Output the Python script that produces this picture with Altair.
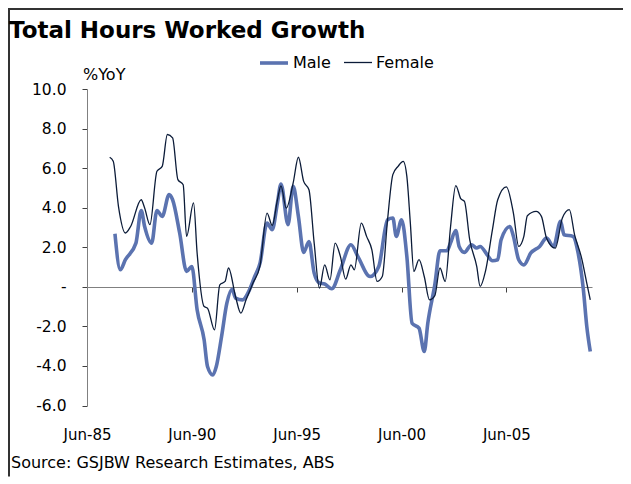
import altair as alt
import pandas as pd

# ---- data ----
female_dates = [
    "1986-07", "1986-09", "1986-12",
    "1987-04", "1987-07",
    "1988-01", "1988-03", "1988-06", "1988-10",
    "1989-01", "1989-04", "1989-07", "1989-10",
    "1990-01", "1990-03", "1990-07", "1990-09",
    "1991-01", "1991-03", "1991-07", "1991-10",
    "1992-01", "1992-03", "1992-07", "1992-10",
    "1993-01", "1993-05", "1993-09",
    "1994-01", "1994-04", "1994-07", "1994-09", "1994-12",
    "1995-04", "1995-07", "1995-10",
    "1996-01", "1996-04", "1996-07", "1996-10",
    "1997-01", "1997-04", "1997-07", "1997-10",
    "1998-01", "1998-03", "1998-07", "1998-10",
    "1999-01", "1999-04", "1999-07", "1999-10",
    "2000-01", "2000-04", "2000-07", "2000-09", "2000-11",
    "2001-01", "2001-04", "2001-07", "2001-10",
    "2002-01", "2002-04", "2002-07", "2002-10",
    "2003-01", "2003-04", "2003-06", "2003-09",
    "2004-01", "2004-03", "2004-06", "2004-10",
    "2005-01", "2005-06", "2005-10",
    "2006-01", "2006-04", "2006-06", "2006-11",
    "2007-02", "2007-05", "2007-10",
    "2008-02", "2008-06", "2008-09",
    "2009-01", "2009-04", "2009-06",
]
female_values = [
    6.55, 6.35, 4.07,
    2.72, 3.05,
    4.40, 3.98, 3.14, 5.84,
    6.09, 7.70, 7.53, 5.42,
    5.16, 2.55, 4.24, 1.71,
    -1.00, -1.08, -2.18, 0.10,
    0.27, 0.95, -0.49, -1.33,
    -0.66, 0.19, 1.07,
    3.73, 3.10, 4.40, 5.10, 3.98,
    5.25, 6.55, 5.33,
    4.91, 2.21, -0.07, 1.11,
    0.35, 2.21, 1.54, 0.39,
    1.11, 0.86, 3.22, 2.55,
    1.87, 0.27, 0.52, 3.39,
    5.67, 6.09, 6.34, 5.58, 3.22,
    0.78, 1.37, 0.52, -0.66,
    -0.45, 0.95, 0.27, 3.00,
    5.12, 4.44, 4.32, 2.38,
    1.03, 0.02, 0.78, 2.89,
    4.40, 5.05, 3.73,
    2.04, 2.55, 3.59, 3.81,
    3.56, 2.46, 1.96,
    3.48, 3.90, 2.63,
    1.45, 0.19, -0.66,
]

male_dates = [
    "1986-10",
    "1987-01", "1987-04", "1987-10",
    "1988-01", "1988-03", "1988-07", "1988-10",
    "1989-01", "1989-05", "1989-07", "1989-11",
    "1990-03", "1990-06", "1990-09",
    "1991-01", "1991-03", "1991-06", "1991-08", "1991-11",
    "1992-02", "1992-05", "1992-07", "1992-11",
    "1993-02", "1993-06", "1993-09",
    "1994-01", "1994-04", "1994-07", "1994-09",
    "1995-01", "1995-04", "1995-07", "1995-10",
    "1996-01", "1996-04", "1996-07", "1996-10",
    "1997-02", "1997-07",
    "1998-01", "1998-05", "1998-12",
    "1999-05", "1999-10",
    "2000-01", "2000-03", "2000-06", "2000-09", "2000-12",
    "2001-04", "2001-07", "2001-09",
    "2002-01", "2002-04", "2002-08", "2002-10",
    "2003-01", "2003-03", "2003-06", "2003-10",
    "2004-01", "2004-03", "2004-07", "2004-10",
    "2005-01", "2005-03", "2005-08", "2005-10",
    "2006-01", "2006-04", "2006-08",
    "2007-01", "2007-05", "2007-09",
    "2008-01", "2008-03", "2008-08", "2008-11",
    "2009-02", "2009-04", "2009-06",
]
male_values = [
    2.68,
    0.86, 1.37, 2.21,
    3.86, 3.05, 2.21, 3.86,
    3.56, 4.66, 4.40, 2.72,
    0.78, 1.03, -1.16,
    -2.68, -4.03, -4.46, -4.03, -2.51,
    -0.83, -0.12, -0.57, -0.66,
    -0.32, 0.52, 1.20,
    3.22, 2.89, 4.24, 5.20,
    3.14, 5.08, 3.56, 1.74,
    2.29, 0.69, 0.19, 0.14,
    -0.10, 0.86,
    2.13, 1.54, 0.52,
    1.03, 3.39,
    3.48, 2.55, 3.39, 1.54, -1.84,
    -2.09, -3.27, -1.84,
    0.10, 1.82, 1.82, 2.21,
    2.84, 2.04, 1.74, 2.13,
    1.96, 2.04, 1.62, 1.32,
    1.37, 2.38, 3.05, 2.55,
    1.37, 1.11, 1.71,
    2.04, 2.46, 2.04,
    3.31, 2.63, 2.55, 1.71,
    -0.15, -2.00, -3.27,
]

series_names = ["Male", "Female"]
series_colors = ["#5B73B0", "#0B1B38"]
series_widths = [3.6, 1.3]
y_ticks = [-6, -4, -2, 0, 2, 4, 6, 8, 10]
x_tick_years = [1985, 1990, 1995, 2000, 2005]

title_text = "Total Hours Worked Growth"
unit_text = "%YoY"
source_text = "Source:  GSJBW Research Estimates, ABS"

# ---- build table ----
df = pd.concat([
    pd.DataFrame({"date": male_dates, "value": male_values, "series": "Male"}),
    pd.DataFrame({"date": female_dates, "value": female_values, "series": "Female"}),
], ignore_index=True)

W, H = 505, 316.5
FONT = "DejaVu Sans"

legend = alt.Legend(
    title=None, orient="none", legendX=171, legendY=-42, direction="horizontal",
    symbolType="stroke", symbolSize=784, labelFontSize=16, labelFont=FONT,
    labelColor="#000", columnPadding=10, labelOffset=3, padding=0,
)

lines = alt.Chart(df).mark_line(interpolate="monotone").encode(
    x=alt.X(
        "date:T",
        scale=alt.Scale(domain=[alt.DateTime(year=1985, month=6, date=1),
                                alt.DateTime(year=2009, month=7, date=1)]),
        axis=alt.Axis(
            values=[alt.DateTime(year=y, month=6, date=1) for y in x_tick_years],
            format="%b-%y", title=None, grid=False, offset=-118.5,
            labelPadding=135, tickSize=5, domainColor="#808080", tickColor="#404040",
            labelFontSize=15, labelFlush=False, labelOverlap=False,
        ),
    ),
    y=alt.Y(
        "value:Q",
        scale=alt.Scale(domain=[-6, 10], nice=False, zero=False),
        axis=alt.Axis(
            values=y_ticks, title=None, grid=False, tickSize=5, labelPadding=16,
            domainColor="#808080", tickColor="#404040", labelFontSize=15.5,
            labelExpr="datum.value == 0 ? '-' : (datum.value < 0 ? '-' + format(-datum.value, '.1f') : format(datum.value, '.1f'))",
        ),
    ),
    color=alt.Color("series:N", scale=alt.Scale(domain=series_names, range=series_colors), legend=legend),
    strokeWidth=alt.StrokeWidth("series:N", scale=alt.Scale(domain=series_names, range=series_widths), legend=legend),
)

one = pd.DataFrame({"a": [0]})

title = alt.Chart(one).mark_text(
    text=title_text, font=FONT, fontSize=23, fontWeight="bold", align="left",
    baseline="alphabetic", color="#000",
).encode(x=alt.value(-78), y=alt.value(-51))

unit = alt.Chart(one).mark_text(
    text=unit_text, font=FONT, fontSize=16, align="left", baseline="middle", color="#000",
).encode(x=alt.value(-4), y=alt.value(-14))

source = alt.Chart(one).mark_text(
    text=source_text, font=FONT, fontSize=16, align="left", baseline="middle", color="#000",
).encode(x=alt.value(-76), y=alt.value(374))

border_top = alt.Chart(one).mark_rule(color="#333333", strokeWidth=2).encode(
    x=alt.value(-79), x2=alt.value(W + 31), y=alt.value(-80))
border_left = alt.Chart(one).mark_rule(color="#333333", strokeWidth=2).encode(
    x=alt.value(-78), y=alt.value(-81), y2=alt.value(H + 71))

chart = alt.layer(border_top, border_left, lines, title, unit, source).properties(
    width=W, height=H,
    padding={"left": 79, "top": 81, "right": 31, "bottom": 71},
    autosize="none",
    background="white",
).configure_view(stroke=None).configure_axis(labelFont=FONT, labelColor="#000")

chart.save("out.html", embed_options={"renderer": "svg", "actions": False})
